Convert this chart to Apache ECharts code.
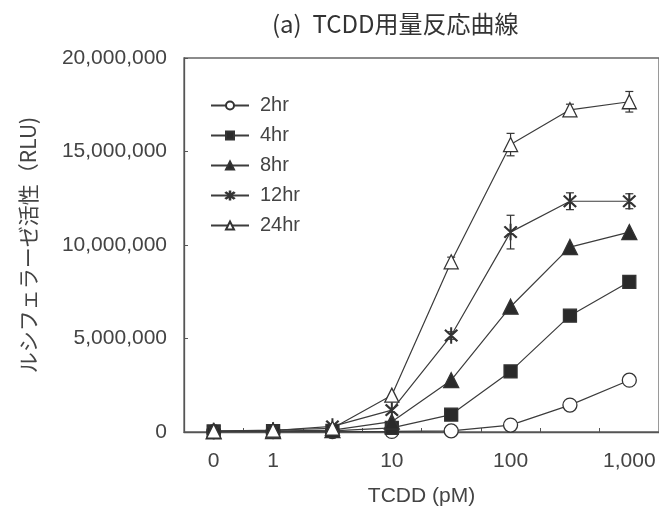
<!DOCTYPE html>
<html>
<head>
<meta charset="utf-8">
<script src="https://cdn.jsdelivr.net/npm/echarts@6/dist/echarts.min.js"></script>
<style>
  html, body { margin: 0; padding: 0; background: #fff; }
  #chart { width: 659px; height: 512px; }
</style>
</head>
<body>
<div id="chart"></div>
<script>
// TCDD concentrations (pM) and the labels shown under the axis
const doses = ['0', '1', '3', '10', '30', '100', '300', '1000'];
const doseLabels = ['0', '1', '', '10', '', '100', '', '1,000'];

// Luciferase activity (RLU) for each exposure time
const rlu2hr  = [20000, 20000, 20000, 30000, 60000, 370000, 1440000, 2770000];
const rlu4hr  = [30000, 40000, 60000, 220000, 930000, 3240000, 6220000, 8030000];
const rlu8hr  = [30000, 50000, 100000, 550000, 2770000, 6700000, 9890000, 10690000];
const rlu12hr = [50000, 80000, 300000, 1170000, 5160000, 10690000, 12340000, 12340000];
const rlu24hr = [50000, 100000, 200000, 1970000, 9100000, 15370000, 17230000, 17660000];

// Standard deviations (error bars)
const sd12hr = [0, 0, 0, 0, 200000, 900000, 450000, 400000];
const sd24hr = [0, 0, 0, 0, 250000, 600000, 300000, 550000];

const yTicks = [0, 5000000, 10000000, 15000000, 20000000];

const ink = '#333';
const lineInk = '#3c3c3c';
const latin = '"Liberation Sans", Arial, sans-serif';
const cjk = '"Noto Sans CJK JP", sans-serif';
// six-armed asterisk marker built from thin bars
const asterisk = 'path://M47.5 0L52.5 0L52.5 100L47.5 100Z' +
  'M16.8 13.2L86.8 83.2L83.2 86.8L13.2 16.8Z' +
  'M86.8 16.8L16.8 86.8L13.2 83.2L83.2 13.2Z';

function errorSeries(name, values, sds) {
  return {
    type: 'custom',
    name: name + ' SD',
    z: 1,
    silent: true,
    data: values.map((v, i) => [i, v, sds[i]]),
    renderItem: function (params, api) {
      const i = api.value(0), v = api.value(1), sd = api.value(2);
      if (!sd) return null;
      const top = api.coord([i, v + sd]);
      const bot = api.coord([i, v - sd]);
      const cap = 4;
      const style = { stroke: ink, lineWidth: 1.2 };
      return {
        type: 'group',
        children: [
          { type: 'line', shape: { x1: top[0], y1: top[1], x2: bot[0], y2: bot[1] }, style: style },
          { type: 'line', shape: { x1: top[0] - cap, y1: top[1], x2: top[0] + cap, y2: top[1] }, style: style },
          { type: 'line', shape: { x1: bot[0] - cap, y1: bot[1], x2: bot[0] + cap, y2: bot[1] }, style: style }
        ]
      };
    }
  };
}

function lineSeries(name, values, symbol, size, fill) {
  return {
    type: 'line',
    name: name,
    data: values,
    z: 3,
    symbol: symbol,
    symbolSize: size,
    showSymbol: true,
    lineStyle: { color: lineInk, width: 1.2 },
    itemStyle: { color: fill, borderColor: ink, borderWidth: 1.3 }
  };
}

const chart = echarts.init(document.getElementById('chart'), null, { renderer: 'canvas' });
chart.setOption({
  animation: false,
  backgroundColor: '#fff',
  title: {
    text: '(a)  TCDD用量反応曲線',
    left: 267,
    top: 7,
    textStyle: { fontFamily: cjk, fontSize: 24, fontWeight: 'normal', color: '#333' }
  },
  legend: {
    orient: 'vertical',
    left: 210,
    top: 95,
    padding: 0,
    itemWidth: 38,
    itemHeight: 10,
    itemGap: 9,
    data: ['2hr', '4hr', '8hr', '12hr', '24hr'],
    textStyle: { fontFamily: latin, fontSize: 20, color: '#444', lineHeight: 21, padding: [0, 0, 0, 6] }
  },
  grid: {
    left: 184,
    top: 58,
    width: 476,
    height: 376,
    show: true,
    borderColor: '#666',
    borderWidth: 1.3,
    containLabel: false
  },
  xAxis: {
    type: 'category',
    data: doses,
    boundaryGap: true,
    name: 'TCDD (pM)',
    nameLocation: 'middle',
    nameGap: 54,
    nameTextStyle: { fontFamily: latin, fontSize: 21, color: '#444' },
    axisLine: { lineStyle: { color: '#555', width: 1.3 } },
    axisTick: { show: true, inside: true, length: 4, lineStyle: { color: '#555' } },
    axisLabel: {
      interval: 0,
      margin: 19,
      fontFamily: latin,
      fontSize: 21,
      color: '#444',
      formatter: (v, i) => doseLabels[i]
    },
    splitLine: { show: false }
  },
  yAxis: {
    type: 'value',
    min: yTicks[0],
    max: yTicks[yTicks.length - 1],
    interval: yTicks[1] - yTicks[0],
    name: 'ルシフェラーゼ活性（RLU)',
    nameLocation: 'middle',
    nameGap: 145,
    nameTextStyle: { fontFamily: cjk, fontSize: 21, color: '#444' },
    axisLine: { show: true, lineStyle: { color: '#555', width: 1.3 } },
    axisTick: { show: true, inside: true, length: 4, lineStyle: { color: '#555' } },
    axisLabel: {
      margin: 17,
      fontFamily: latin,
      fontSize: 21,
      color: '#444',
      padding: [5, 0, 0, 0],
      formatter: v => v.toLocaleString('en-US')
    },
    splitLine: { show: false }
  },
  series: [
    lineSeries('2hr', rlu2hr, 'circle', 14, '#fff'),
    lineSeries('4hr', rlu4hr, 'rect', 13, '#2a2a2a'),
    lineSeries('8hr', rlu8hr, 'triangle', 15, '#2a2a2a'),
    lineSeries('12hr', rlu12hr, asterisk, [12, 15], '#2a2a2a'),
    lineSeries('24hr', rlu24hr, 'triangle', 14, '#fff'),
    errorSeries('12hr', rlu12hr, sd12hr),
    errorSeries('24hr', rlu24hr, sd24hr)
  ]
});
</script>
</body>
</html>
